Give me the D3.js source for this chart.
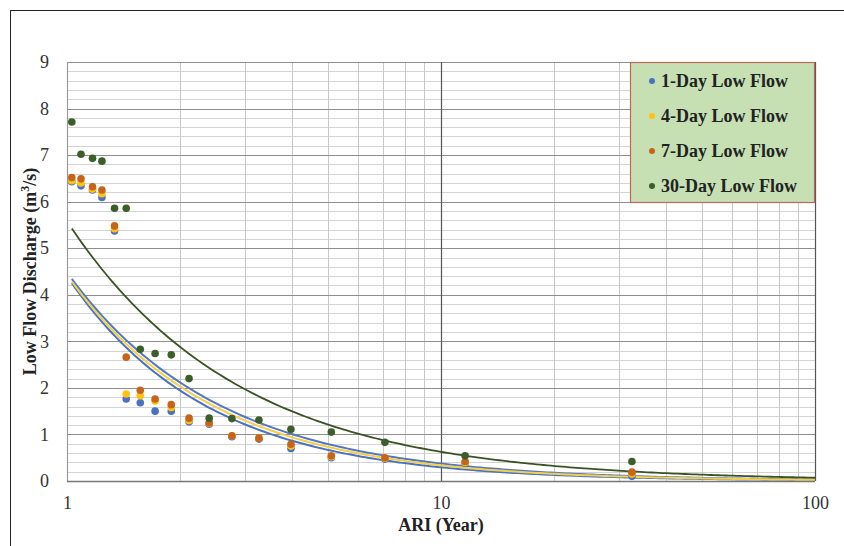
<!DOCTYPE html>
<html><head><meta charset="utf-8">
<script src="https://cdn.jsdelivr.net/npm/d3@7/dist/d3.min.js"></script>
<style>body{margin:0;background:#fff}svg{display:block}
text{font-family:"Liberation Serif","Times New Roman","DejaVu Serif",serif}</style>
</head><body><svg id="c" width="844" height="546"></svg>
<script>
// ---- data ----
const ari    = [1.03,1.09,1.17,1.24,1.34,1.44,1.57,1.72,1.90,2.12,2.40,2.76,3.26,3.97,5.09,7.08,11.6,32.4];
const flow1  = [6.43,6.34,6.25,6.09,5.37,1.76,1.68,1.50,1.50,1.27,1.22,0.95,0.90,0.70,0.50,0.47,0.38,0.10];
const flow4  = [6.45,6.40,6.27,6.17,5.42,1.87,1.83,1.72,1.58,1.30,1.24,0.97,0.92,0.75,0.52,0.49,0.40,0.15];
const flow7  = [6.52,6.49,6.32,6.25,5.48,2.66,1.95,1.76,1.64,1.35,1.25,0.97,0.92,0.79,0.54,0.50,0.42,0.19];
const flow30 = [7.71,7.02,6.93,6.87,5.86,5.86,2.83,2.74,2.71,2.20,1.35,1.34,1.31,1.11,1.05,0.83,0.54,0.42];
const seriesNames = ["1-Day Low Flow","4-Day Low Flow","7-Day Low Flow","30-Day Low Flow"];
// power trendlines y = a * x^b, coefficients
const trendA = [4.40, 4.43, 4.48, 5.58];
const trendB = [-1.174, -1.12, -1.077, -0.95];
const pointColors = ["#4A72C0","#FFC20E","#C8631A","#3B5E2B"];
const trendColors = ["#4A72C0","#F3CF4A","#5577C2","#3B5324"];
const yTicks = [0,1,2,3,4,5,6,7,8,9];
const xTicks = [1,10,100];

const seriesVals = [flow1, flow4, flow7, flow30];

const svg = d3.select("#c");
const W = 844, H = 546;
const L = 67, R = 815, T = 62, B = 481;
const x = d3.scaleLog().domain([1,100]).range([L,R]);
const y = d3.scaleLinear().domain([0,9]).range([B,T]);

// outer frame (top and left edges visible)
svg.append("line").attr("x1",10).attr("x2",W).attr("y1",10.5).attr("y2",10.5).attr("stroke","#222").attr("stroke-width",1);
svg.append("line").attr("x1",10.5).attr("x2",10.5).attr("y1",10).attr("y2",H).attr("stroke","#222").attr("stroke-width",1);

// minor grid
const yMinor = d3.range(0,9.001,0.2).filter(v => Math.abs(v - Math.round(v)) > 1e-6);
svg.append("g").selectAll("line").data(yMinor).join("line")
  .attr("x1",L).attr("x2",R).attr("y1",d=>Math.round(y(d))+0.5).attr("y2",d=>Math.round(y(d))+0.5)
  .attr("stroke","#d4d4d4").attr("stroke-width",1);
const xMinor = [2,3,4,5,6,7,8,9,20,30,40,50,60,70,80,90];
svg.append("g").selectAll("line").data(xMinor).join("line")
  .attr("y1",T).attr("y2",B).attr("x1",d=>Math.round(x(d))+0.5).attr("x2",d=>Math.round(x(d))+0.5)
  .attr("stroke","#c8c8c8").attr("stroke-width",1);
// major grid
svg.append("g").selectAll("line").data(yTicks).join("line")
  .attr("x1",L).attr("x2",R).attr("y1",d=>Math.round(y(d))+0.5).attr("y2",d=>Math.round(y(d))+0.5)
  .attr("stroke","#8e8e8e").attr("stroke-width",1.2);
svg.append("g").selectAll("line").data(xTicks).join("line")
  .attr("y1",T).attr("y2",B).attr("x1",d=>Math.round(x(d))+0.5).attr("x2",d=>Math.round(x(d))+0.5)
  .attr("stroke",(d,i)=> i===0 ? "#9a9a9a" : "#555").attr("stroke-width",1.2);
// bottom axis line
svg.append("line").attr("x1",L).attr("x2",R).attr("y1",B+0.5).attr("y2",B+0.5).attr("stroke","#777").attr("stroke-width",1.5);

// axes tick labels
const yAxis = d3.axisLeft(y).tickValues(yTicks).tickSize(0).tickPadding(18).tickFormat(d3.format("d"));
const gy = svg.append("g").attr("transform",`translate(${L},0)`).call(yAxis);
gy.select(".domain").remove();
gy.selectAll("text").attr("font-family",null).attr("font-size",18).attr("fill","#333");
const xAxis = d3.axisBottom(x).tickValues(xTicks).tickSize(0).tickPadding(15).tickFormat(d3.format("d"));
const gx = svg.append("g").attr("transform",`translate(0,${B})`).call(xAxis);
gx.select(".domain").remove();
gx.selectAll("text").attr("font-size",18).attr("fill","#333");
gy.attr("font-family",null); gx.attr("font-family",null);

// axis titles
svg.append("text").attr("x",(L+R)/2).attr("y",531).attr("text-anchor","middle")
  .attr("font-weight","bold").attr("font-size",18).attr("fill","#222")
  .text("ARI (Year)");
const yt = svg.append("text").attr("transform",`translate(36,${(T+B)/2}) rotate(-90)`).attr("text-anchor","middle")
  .attr("font-weight","bold").attr("font-size",18).attr("fill","#222");
yt.append("tspan").text("Low Flow Discharge (m");
yt.append("tspan").attr("baseline-shift","super").attr("font-size",12).text("3");
yt.append("tspan").text("/s)");

// power-law trend lines
const xMin = d3.min(ari);
const samples = d3.range(0,201).map(i => Math.exp(Math.log(xMin) + (Math.log(100)-Math.log(xMin))*i/200));
const line = d3.line().x(d=>x(d[0])).y(d=>y(d[1]));
const trendOrder = [0,2,1,3];
trendOrder.forEach(si => {
  const f = t => trendA[si]*Math.pow(t,trendB[si]);
  svg.append("path").datum(samples.map(t=>[t,f(t)]))
    .attr("d",line).attr("fill","none").attr("stroke",trendColors[si])
    .attr("stroke-width", si===3 ? 1.8 : 2);
});

// points
seriesVals.forEach((vals,si) => {
  svg.append("g").selectAll("circle").data(ari).join("circle")
    .attr("cx",d=>x(d)).attr("cy",(d,i)=>y(vals[i])).attr("r",3.8)
    .attr("fill",pointColors[si]);
});

// legend
const lg = svg.append("g");
lg.append("rect").attr("x",630.5).attr("y",62.5).attr("width",184).attr("height",140)
  .attr("fill","#C6E0B4").attr("stroke","#C0675A").attr("stroke-width",1.2);
seriesNames.forEach((n,i) => {
  const cy = 81 + i*35;
  lg.append("circle").attr("cx",652).attr("cy",cy).attr("r",3).attr("fill",pointColors[i]);
  lg.append("text").attr("x",661).attr("y",cy+6)
    .attr("font-weight","bold").attr("font-size",18).attr("fill","#222")
    .text(n);
});
</script></body></html>
